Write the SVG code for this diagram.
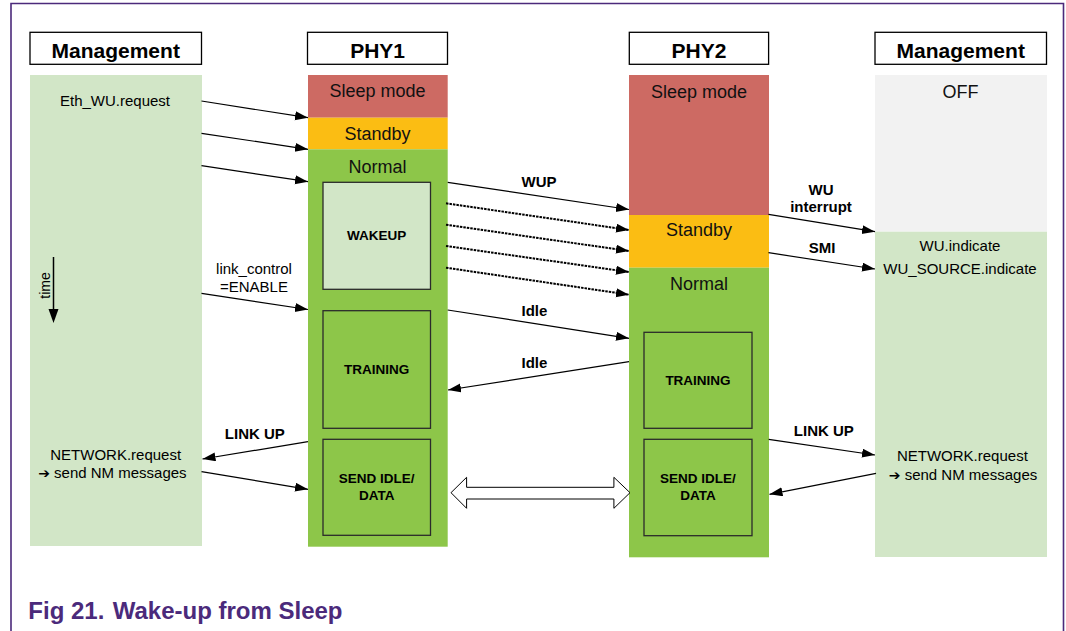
<svg xmlns="http://www.w3.org/2000/svg" width="1066" height="631" viewBox="0 0 1066 631">
<defs>
<style>
.t{font-family:"Liberation Sans",Arial,sans-serif;fill:#000;text-anchor:middle}
.hdr{font-size:21px;font-weight:bold}
.st{font-size:18px;fill:#111}
.lb{font-size:15px}
.bl{font-size:15px;font-weight:bold}
.in{font-size:13.5px;font-weight:bold}
.hbox{fill:#fff;stroke:#000;stroke-width:1.3}
.ibox{stroke:#2b2b2b;stroke-width:1.3}
.ln{stroke:#000;stroke-width:1.2;fill:none;marker-end:url(#ah)}
.dl{stroke:#000;stroke-width:2;fill:none;stroke-dasharray:2.5 1;marker-end:url(#ah)}
.ar{font-family:"DejaVu Sans",sans-serif;font-size:14px}
</style>
<marker id="ah" markerUnits="userSpaceOnUse" markerWidth="14" markerHeight="10" refX="13" refY="4.5" orient="auto">
<path d="M0,0 L13,4.5 L0,9 z" fill="#000"/>
</marker>
</defs>
<rect x="0" y="0" width="1066" height="631" fill="#fff"/>
<path d="M11,631 L11,3.5 L1063.5,3.5 L1063.5,631" fill="none" stroke="#4b2a7b" stroke-width="1.6"/>

<g id="mgmt-left">
<rect class="hbox" x="30" y="32.3" width="171.5" height="32"/>
<text class="t hdr" x="115.7" y="58.3">Management</text>
<rect x="30" y="75" width="172" height="471" fill="#d2e6c7"/>
<text class="t lb" x="115" y="105.5">Eth_WU.request</text>
<text class="t lb" x="115.7" y="460">NETWORK.request</text>
<text class="t lb" x="112.4" y="478.3"><tspan class="ar">➔</tspan> send NM messages</text>
<line x1="53.5" y1="257" x2="53.5" y2="311" stroke="#000" stroke-width="1.5"/>
<path d="M48.5,309 L58.5,309 L53.5,323 z" fill="#000"/>
<text class="t" font-size="14" transform="translate(49.5,285.5) rotate(-90)">time</text>
</g>

<g id="phy1">
<rect class="hbox" x="307.5" y="32.3" width="140" height="32"/>
<text class="t hdr" x="377.6" y="58.3">PHY1</text>
<rect x="308" y="75" width="139.7" height="42.7" fill="#cd6a63"/>
<rect x="308" y="117.7" width="139.7" height="31.6" fill="#fbbd13"/>
<rect x="308" y="149.3" width="139.7" height="397.4" fill="#8dc649"/>
<text class="t st" x="377.6" y="97">Sleep mode</text>
<text class="t st" x="377.6" y="139.5">Standby</text>
<text class="t st" x="377.6" y="172.7">Normal</text>
<rect class="ibox" x="323" y="182.3" width="107.5" height="107" fill="#d2e6c7"/>
<text class="t in" x="376.7" y="240">WAKEUP</text>
<rect class="ibox" x="323" y="310.7" width="107.5" height="117.6" fill="#8dc649"/>
<text class="t in" x="376.7" y="374.3">TRAINING</text>
<rect class="ibox" x="323" y="439.3" width="107.5" height="96" fill="#8dc649"/>
<text class="t in" x="376.7" y="482.7">SEND IDLE/</text>
<text class="t in" x="376.7" y="500">DATA</text>
</g>

<g id="phy2">
<rect class="hbox" x="629.3" y="32.3" width="139.3" height="32"/>
<text class="t hdr" x="699" y="58.3">PHY2</text>
<rect x="629" y="75" width="140" height="140" fill="#cd6a63"/>
<rect x="629" y="215" width="140" height="52.7" fill="#fbbd13"/>
<rect x="629" y="267.7" width="140" height="289.6" fill="#8dc649"/>
<text class="t st" x="699" y="97.5">Sleep mode</text>
<text class="t st" x="699" y="236">Standby</text>
<text class="t st" x="699" y="290">Normal</text>
<rect class="ibox" x="644" y="332.3" width="108" height="96" fill="#8dc649"/>
<text class="t in" x="698" y="385">TRAINING</text>
<rect class="ibox" x="644" y="439.3" width="108" height="96.4" fill="#8dc649"/>
<text class="t in" x="698" y="482.7">SEND IDLE/</text>
<text class="t in" x="698" y="500">DATA</text>
</g>

<g id="mgmt-right">
<rect class="hbox" x="875" y="32.3" width="171.5" height="32"/>
<text class="t hdr" x="960.7" y="58.3">Management</text>
<rect x="875" y="75" width="172" height="156.7" fill="#f2f2f2"/>
<rect x="875" y="231.7" width="172" height="325.3" fill="#d2e6c7"/>
<text class="t st" x="960.6" y="97.7">OFF</text>
<text class="t lb" x="960" y="251">WU.indicate</text>
<text class="t lb" x="960" y="274.3">WU_SOURCE.indicate</text>
<text class="t lb" x="962.4" y="461">NETWORK.request</text>
<text class="t lb" x="963" y="480"><tspan class="ar">➔</tspan> send NM messages</text>
</g>

<g id="connectors">
<line class="ln" x1="201.5" y1="101" x2="308" y2="117.7"/>
<line class="ln" x1="201.5" y1="133.3" x2="308" y2="149.3"/>
<line class="ln" x1="201.5" y1="165.7" x2="308" y2="181.7"/>
<line class="ln" x1="447.7" y1="182.3" x2="629" y2="209.5"/>
<line class="dl" x1="446" y1="203.3" x2="629" y2="230"/>
<line class="dl" x1="446" y1="224.7" x2="629" y2="251"/>
<line class="dl" x1="446" y1="246" x2="629" y2="272"/>
<line class="dl" x1="446" y1="267.7" x2="629" y2="294.7"/>
<line class="ln" x1="201.5" y1="293.3" x2="308" y2="309.5"/>
<line class="ln" x1="447.7" y1="310" x2="629" y2="338.3"/>
<line class="ln" x1="629" y1="361.7" x2="448" y2="390"/>
<line class="ln" x1="308" y1="441.7" x2="202.5" y2="459"/>
<line class="ln" x1="201.5" y1="471.7" x2="308" y2="489.3"/>
<line class="ln" x1="768.5" y1="214.3" x2="875" y2="231.7"/>
<line class="ln" x1="768.5" y1="252.7" x2="875" y2="269"/>
<line class="ln" x1="768.7" y1="439.3" x2="875" y2="455"/>
<line class="ln" x1="876" y1="473.3" x2="769.5" y2="494.3"/>
<polygon points="451,492.7 466.6,477.3 466.6,487.3 613.9,487.3 613.9,477.3 630,492.7 613.9,508.3 613.9,499 466.6,499 466.6,508.3" fill="#fff" stroke="#000" stroke-width="1"/>
<text class="t bl" x="539" y="186.7">WUP</text>
<text class="t bl" x="821" y="195">WU</text>
<text class="t bl" x="821" y="212.3">interrupt</text>
<text class="t bl" x="822" y="252.7">SMI</text>
<text class="t bl" x="534.4" y="315.7">Idle</text>
<text class="t bl" x="534.4" y="368.3">Idle</text>
<text class="t lb" x="254" y="274">link_control</text>
<text class="t lb" x="254" y="291.7">=ENABLE</text>
<text class="t bl" x="254.8" y="439.3">LINK UP</text>
<text class="t bl" x="823.8" y="436">LINK UP</text>
</g>

<g id="caption">
<text font-family="Liberation Sans,Arial,sans-serif" font-size="24" font-weight="bold" fill="#4b2a7b" x="28.3" y="619.3">Fig 21.</text>
<text font-family="Liberation Sans,Arial,sans-serif" font-size="24" font-weight="bold" fill="#4b2a7b" x="112.7" y="619.3">Wake-up from Sleep</text>
</g>
</svg>
